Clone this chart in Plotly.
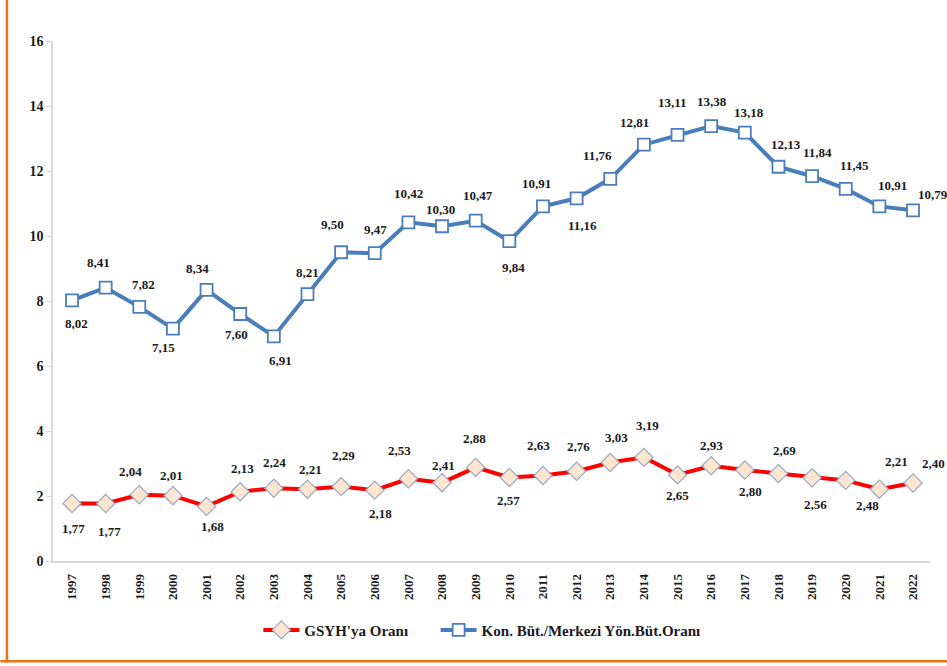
import plotly.graph_objects as go

years = list(range(1997, 2023))
gsyh = [1.77, 1.77, 2.04, 2.01, 1.68, 2.13, 2.24, 2.21, 2.29, 2.18, 2.53, 2.41, 2.88,
        2.57, 2.63, 2.76, 3.03, 3.19, 2.65, 2.93, 2.80, 2.69, 2.56, 2.48, 2.21, 2.40]
kon = [8.02, 8.41, 7.82, 7.15, 8.34, 7.60, 6.91, 8.21, 9.50, 9.47, 10.42, 10.30, 10.47,
       9.84, 10.91, 11.16, 11.76, 12.81, 13.11, 13.38, 13.18, 12.13, 11.84, 11.45, 10.91, 10.79]
series_names = ["GSYH'ya Oranı", "Kon. Büt./Merkezi Yön.Büt.Oranı"]
y_ticks = [0, 2, 4, 6, 8, 10, 12, 14, 16]

# label offsets in pixels (dx, dy; dy positive = down)
kon_off = [(4, 23), (-7, -25), (4, -22), (-9, 19), (-9, -21), (-4, 20), (7, 24), (0, -22),
           (-9, -28), (1, -24), (0, -29), (-2, -17), (2, -25), (4, 26), (-6, -23), (6, 27),
           (-13, -23), (-9, -22), (-5, -32), (1, -25), (4, -20), (8, -22), (5, -24), (9, -23),
           (13, -21), (20, -16)]
gsyh_off = [(1, 25), (4, 28), (-9, -23), (-1, -20), (6, 20), (2, -23), (1, -26), (3, -20),
            (2, -31), (6, 23), (-9, -28), (1, -17), (-1, -29), (-1, 23), (-4, -30), (2, -25),
            (6, -25), (4, -32), (0, 21), (0, -20), (6, 21), (6, -23), (3, 27), (22, 25),
            (17, -28), (20, -20)]

FONT = "Liberation Serif, Times New Roman, serif"
GAP = "&nbsp;" * 6
fig = go.Figure()
fig.add_trace(go.Scatter(
    x=years, y=gsyh, name="<b>" + series_names[0] + "</b>" + GAP, mode="lines+markers",
    line=dict(color="#FF0000", width=4),
    marker=dict(symbol="diamond", size=14, color="#FDE5CF",
                line=dict(color="#95A9C6", width=1.2)),
))
fig.add_trace(go.Scatter(
    x=years, y=kon, name="<b>" + series_names[1] + "</b>", mode="lines+markers",
    line=dict(color="#4A7EBB", width=4),
    marker=dict(symbol="square", size=12, color="#FFFFFF",
                line=dict(color="#4A7EBB", width=1.8)),
))

def fmt(v):
    return f"{v:.2f}".replace(".", ",")

for vals, offs in ((kon, kon_off), (gsyh, gsyh_off)):
    for x, v, (dx, dy) in zip(years, vals, offs):
        fig.add_annotation(x=x, y=v, text="<b>" + fmt(v) + "</b>", showarrow=False,
                           xshift=dx, yshift=-dy,
                           font=dict(family=FONT, size=13, color="#1a1a1a"))

# orange frame lines (left and bottom)
fig.add_shape(type="line", xref="paper", yref="paper",
              x0=-0.0525, x1=-0.0525, y0=-0.195, y1=1.1, line=dict(color="#E8730F", width=2.5))
fig.add_shape(type="line", xref="paper", yref="paper",
              x0=-0.06, x1=1.03, y0=-0.193, y1=-0.193, line=dict(color="#E8730F", width=2.5))

fig.update_layout(
    width=947, height=666,
    margin=dict(l=53, r=17, t=41, b=105),
    paper_bgcolor="white", plot_bgcolor="white",
    font=dict(family=FONT, size=13, color="#1a1a1a"),
    showlegend=True,
    legend=dict(orientation="h", x=0.489, xanchor="center", y=-0.133, yanchor="middle",
                font=dict(family=FONT, size=15, color="#1a1a1a"),
                itemwidth=36, tracegroupgap=0, itemsizing="trace"),
    xaxis=dict(range=[1996.435, 2022.505], tickmode="array", tickvals=years,
               ticktext=["<b>%d</b>" % y for y in years], tickangle=-90,
               showline=True, linecolor="#D9D9D9", linewidth=1.5,
               showgrid=False, zeroline=False, ticks="", ticklabelstandoff=6,
               tickfont=dict(family=FONT, size=13, color="#1a1a1a")),
    yaxis=dict(range=[0, 16], tickmode="array", tickvals=y_ticks,
               ticktext=["<b>%d</b>" % v for v in y_ticks],
               showline=True, linecolor="#D9D9D9", linewidth=1.5,
               showgrid=False, zeroline=False, ticks="outside", ticklen=5,
               tickcolor="#D9D9D9",
               tickfont=dict(family=FONT, size=14, color="#1a1a1a")),
)

fig.write_html("out.html", config={"displayModeBar": False},
               post_script="document.body.style.margin='0';")
